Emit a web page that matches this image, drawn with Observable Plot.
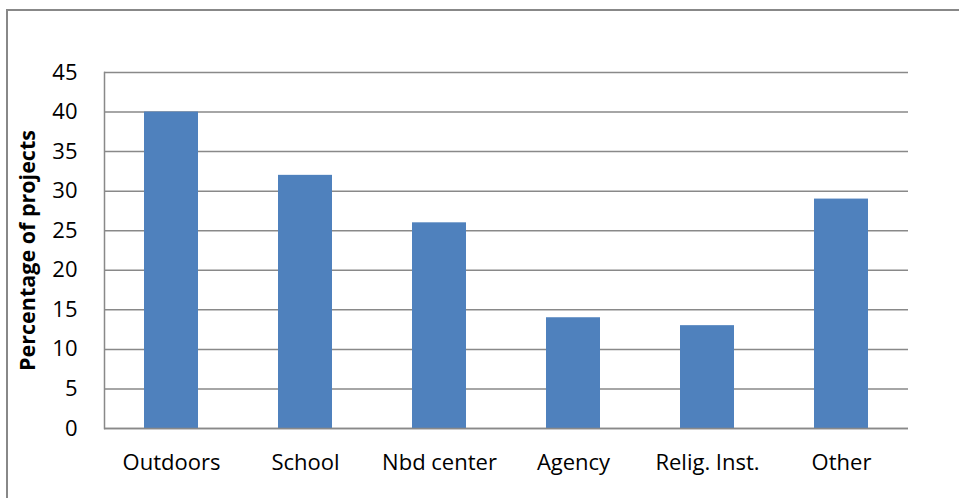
<!DOCTYPE html>
<html>
<head>
<meta charset="utf-8">
<script src="https://cdn.jsdelivr.net/npm/d3@7"></script>
<script src="https://cdn.jsdelivr.net/npm/@observablehq/plot@0.6"></script>
<style>
  html, body { margin: 0; padding: 0; background: #fff; overflow: hidden; }
  #wrap { position: relative; width: 959px; height: 498px; }
  #border { position: absolute; left: 6px; top: 9px; width: 980px; height: 520px;
            border-left: 2px solid #888; border-top: 2px solid #888; box-sizing: border-box; }
  #chart { position: absolute; left: 0; top: 0; }
</style>
</head>
<body>
<div id="wrap">
  <div id="border"></div>
  <div id="chart"></div>
</div>
<script>
const categories = ["Outdoors", "School", "Nbd center", "Agency", "Relig. Inst.", "Other"];
const values = [40, 32, 26, 14, 13, 29];
const yTicks = [0, 5, 10, 15, 20, 25, 30, 35, 40, 45];
const yLabel = "Percentage of projects";

const data = categories.map((c, i) => ({category: c, value: values[i]}));

const chart = Plot.plot({
  width: 959,
  height: 498,
  marginLeft: 104,
  marginRight: 51,
  marginTop: 72,
  marginBottom: 70,
  style: {fontFamily: "'Open Sans', sans-serif", fontSize: "22px", color: "#000", background: "transparent"},
  x: {domain: categories, paddingInner: 0.6, paddingOuter: 0.3, label: null},
  y: {domain: [0, 45], ticks: yTicks, label: null},
  marks: [
    Plot.gridY(yTicks, {stroke: "#898989", strokeOpacity: 1, strokeWidth: 1.5}),
    Plot.barY(data, {x: "category", y: "value", fill: "#4F81BD"}),
    Plot.ruleY([0], {stroke: "#898989", strokeWidth: 1.5}),
    Plot.frame({anchor: "left", stroke: "#898989", strokeWidth: 1.5}),
    Plot.axisY(yTicks, {tickSize: 0, tickPadding: 27, fontSize: 22, fill: "#000"}),
    Plot.axisX({tickSize: 0, tickPadding: 26, fontSize: 22, fill: "#000"}),
    Plot.text([yLabel], {frameAnchor: "left", dx: -76, rotate: -90, textAnchor: "middle", text: d => d,
      fontSize: 21.5, fontWeight: "bold", fill: "#000"})
  ]
});
document.getElementById("chart").appendChild(chart);
</script>
</body>
</html>
